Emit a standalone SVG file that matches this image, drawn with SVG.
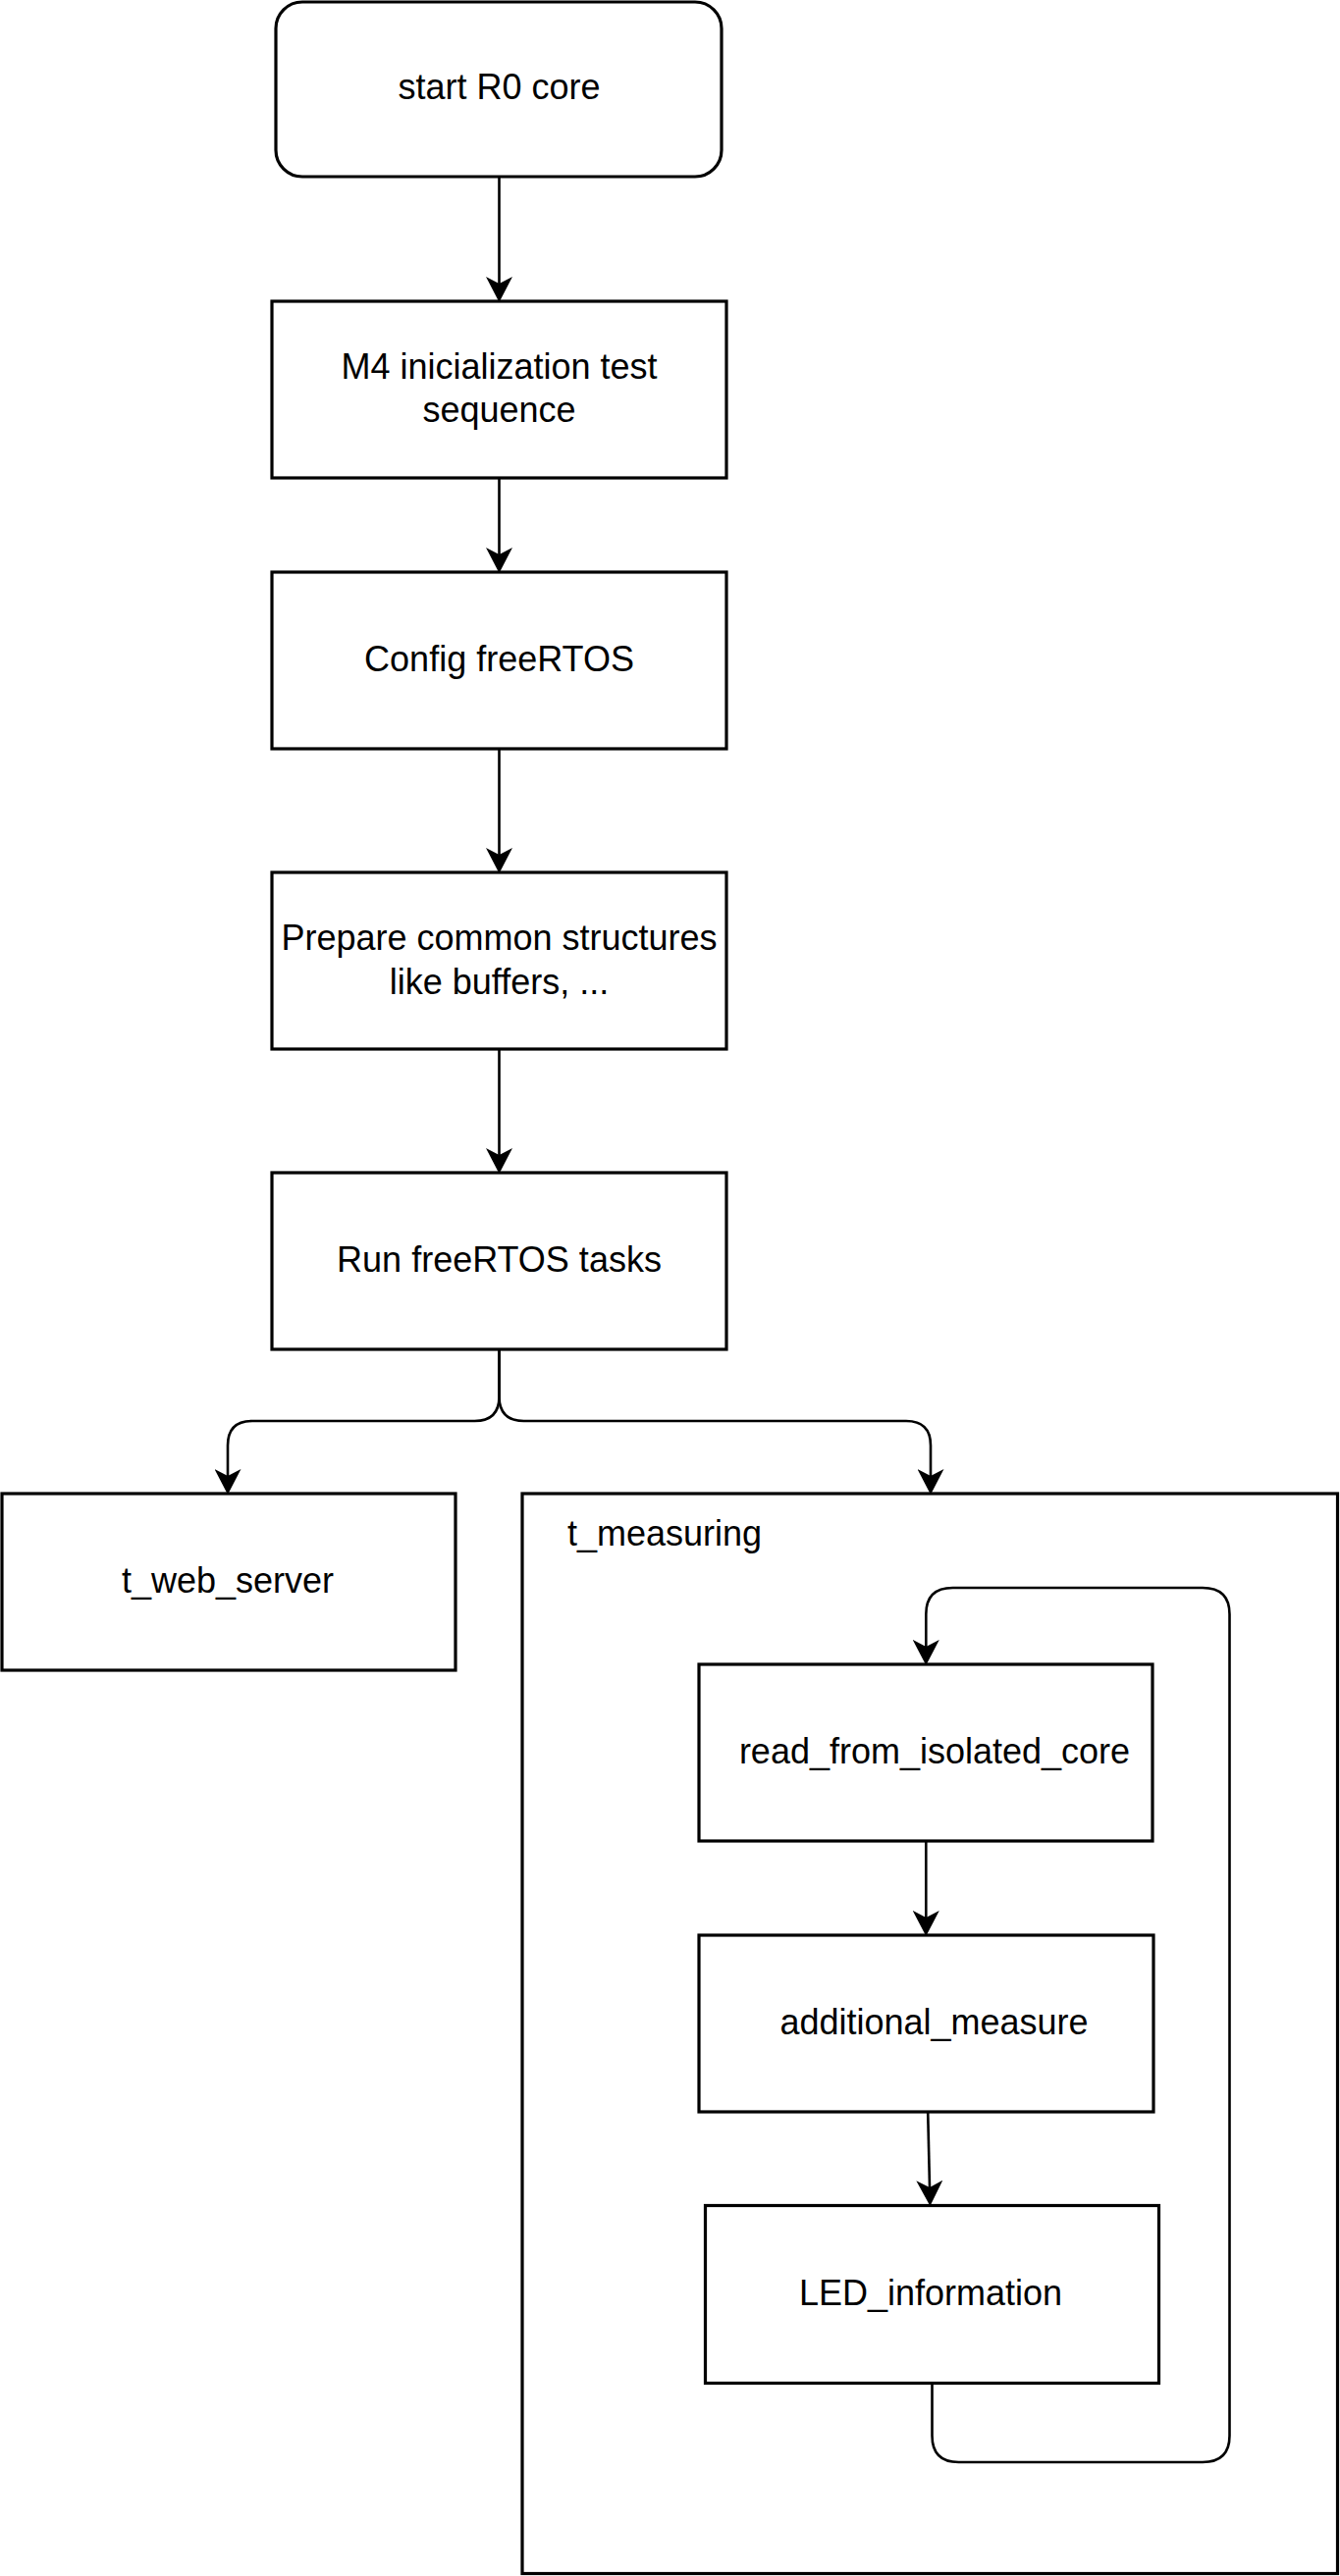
<svg xmlns="http://www.w3.org/2000/svg" width="1365" height="2625" viewBox="0 0 1365 2625">
<style>
.box{fill:#fff;stroke:#000;stroke-width:3.2}
.lbl{font-family:"Liberation Sans",Arial,sans-serif;font-size:36px;fill:#000;text-anchor:middle}
.edge{fill:none;stroke:#000;stroke-width:2.6}
</style>
<defs>
<marker id="arr" markerUnits="userSpaceOnUse" markerWidth="26" markerHeight="27" viewBox="0 0 26 27" refX="7" refY="13.5" orient="auto">
<path d="M0,0 L26,13.5 L0,27 L7,13.5 Z" fill="#000"/>
</marker>
</defs>
<rect x="0" y="0" width="1365" height="2625" fill="#fff"/>
<g id="n-start">
<rect class="box" x="281" y="2" width="454" height="178" rx="27" ry="27"/>
<text class="lbl" x="508.5" y="101">start R0 core</text>
</g>
<g id="n-m4init">
<rect class="box" x="277" y="307" width="463" height="180"/>
<text class="lbl" x="508.5" y="386">M4 inicialization test</text>
<text class="lbl" x="508.5" y="430">sequence</text>
</g>
<g id="n-config">
<rect class="box" x="277" y="583" width="463" height="180"/>
<text class="lbl" x="508.5" y="684">Config freeRTOS</text>
</g>
<g id="n-prepare">
<rect class="box" x="277" y="889" width="463" height="180"/>
<text class="lbl" x="508.5" y="968">Prepare common structures</text>
<text class="lbl" x="508.5" y="1013">like buffers, ...</text>
</g>
<g id="n-run">
<rect class="box" x="277" y="1195" width="463" height="180"/>
<text class="lbl" x="508.5" y="1296">Run freeRTOS tasks</text>
</g>
<g id="n-web">
<rect class="box" x="2" y="1522" width="462" height="180"/>
<text class="lbl" x="232" y="1623">t_web_server</text>
</g>
<g id="n-measuring">
<rect class="box" x="532" y="1522" width="830.5" height="1100.5"/>
<text class="lbl" x="578" y="1575" style="text-anchor:start">t_measuring</text>
</g>
<g id="n-read">
<rect class="box" x="712" y="1696" width="462" height="180"/>
<text class="lbl" x="952" y="1797">read_from_isolated_core</text>
</g>
<g id="n-additional">
<rect class="box" x="712" y="1972" width="463" height="180"/>
<text class="lbl" x="951.5" y="2073">additional_measure</text>
</g>
<g id="n-led">
<rect class="box" x="718.5" y="2247.5" width="462" height="181"/>
<text class="lbl" x="948" y="2349">LED_information</text>
</g>
<g id="connectors">
<path class="edge" marker-end="url(#arr)" d="M508.5 180 V289"/>
<path class="edge" marker-end="url(#arr)" d="M508.5 487 V565"/>
<path class="edge" marker-end="url(#arr)" d="M508.5 763 V871"/>
<path class="edge" marker-end="url(#arr)" d="M508.5 1069 V1177"/>
<path class="edge" marker-end="url(#arr)" d="M508.5 1375 V1423 Q508.5 1448 483.5 1448 H257 Q232 1448 232 1473 V1504"/>
<path class="edge" marker-end="url(#arr)" d="M508.5 1375 V1423 Q508.5 1448 533.5 1448 H923 Q948 1448 948 1473 V1504"/>
<path class="edge" marker-end="url(#arr)" d="M943.3 1876 V1954"/>
<path class="edge" marker-end="url(#arr)" d="M945.2 2152 L947 2229"/>
<path class="edge" marker-end="url(#arr)" d="M949.5 2428.5 V2482 Q949.5 2509 976.5 2509 H1225 Q1252.5 2509 1252.5 2482 V1645 Q1252.5 1618 1225 1618 H970.5 Q943.3 1618 943.3 1645 V1678"/>
</g>
</svg>
